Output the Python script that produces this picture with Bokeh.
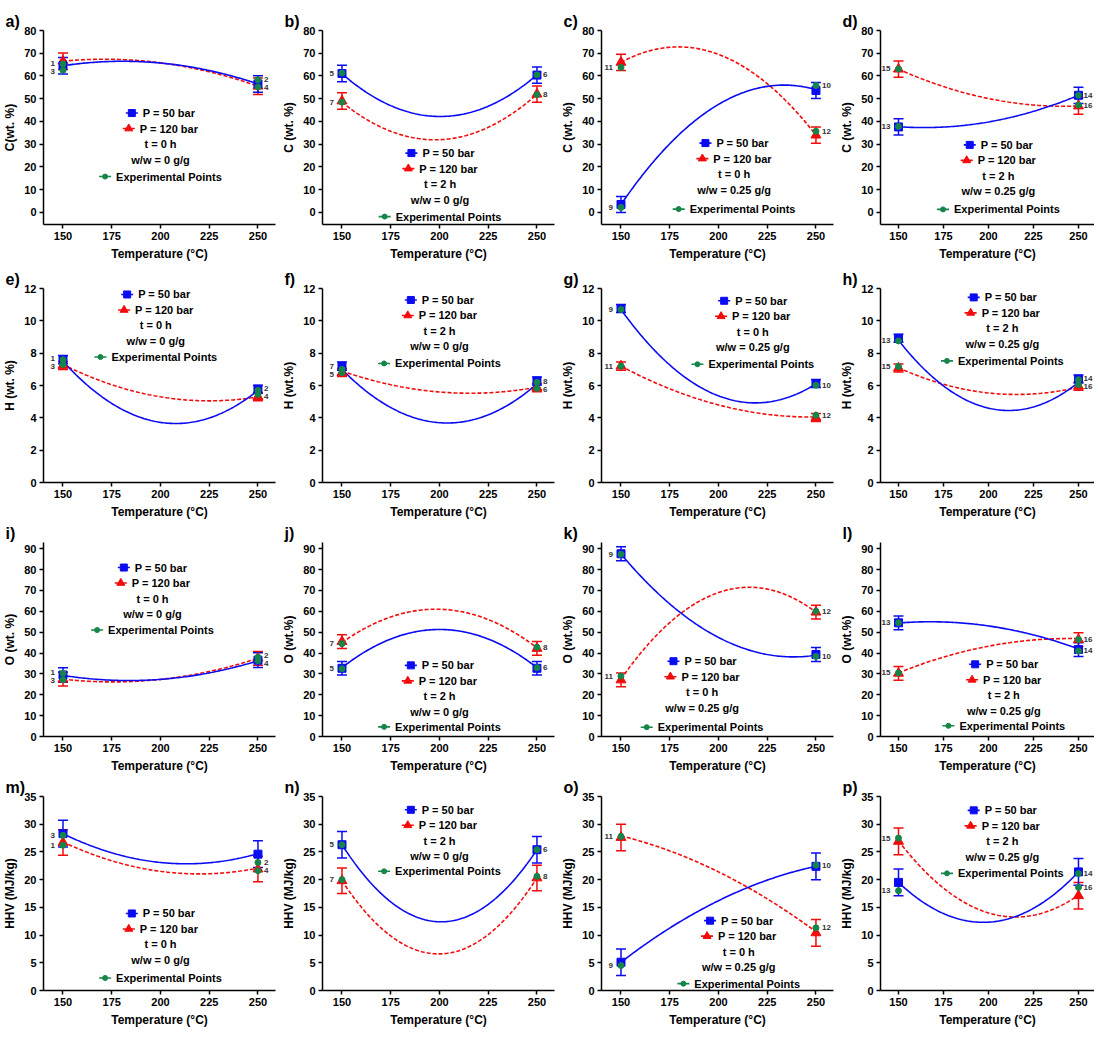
import numpy as np
from bokeh.plotting import figure
from bokeh.layouts import gridplot
from bokeh.models import Range1d, FixedTicker, Whisker, ColumnDataSource, TeeHead
from bokeh.embed import file_html
from bokeh.resources import INLINE
from bokeh.core.properties import value

# ---------------- data ----------------
panel_letters = ["a)", "b)", "c)", "d)", "e)", "f)", "g)", "h)",
                 "i)", "j)", "k)", "l)", "m)", "n)", "o)", "p)"]
y_labels = ["C(wt. %)", "C (wt. %)", "C (wt. %)", "C (wt. %)",
            "H (wt. %)", "H (wt.%)", "H (wt.%)", "H (wt.%)",
            "O (wt. %)", "O (wt.%)", "O (wt.%)", "O (wt.%)",
            "HHV (MJ/kg)", "HHV (MJ/kg)", "HHV (MJ/kg)", "HHV (MJ/kg)"]
x_label = "Temperature (\u00b0C)"
x_ticks = [150, 175, 200, 225, 250]
temps = [150, 250]
curve_temps = [150, 200, 250]
t_text = ["t = 0 h", "t = 2 h", "t = 0 h", "t = 2 h"]
ww_text = ["w/w = 0 g/g", "w/w = 0 g/g", "w/w = 0.25 g/g", "w/w = 0.25 g/g"]
row_ylim = [(-5.3, 80), (0, 12), (0, 93), (0, 35)]
row_yticks = [list(range(0, 81, 10)), list(range(0, 13, 2)),
              list(range(0, 91, 10)), list(range(0, 36, 5))]

# model means at 150 / 250 degC
p50_mean = [[64.5, 56.5], [61.1, 60.4], [3.5, 53.6], [37.6, 51.5],
            [7.6, 5.77], [7.2, 6.28], [10.76, 6.12], [8.92, 6.4],
            [29.5, 36.6], [32.7, 32.7], [87.6, 39.3], [54.5, 41.7],
            [28.3, 24.6], [26.3, 25.4], [5.1, 22.4], [19.5, 21.4]]
p50_err = [3.6, 3.6, 3.5, 3.6, 0.25, 0.25, 0.25, 0.25,
           3.5, 3.2, 3.4, 3.3, 2.4, 2.4, 2.4, 2.4]
p120_mean = [[66.5, 55.5], [49.0, 52.0], [66.0, 34.0], [63.0, 46.8],
             [7.24, 5.31], [6.8, 5.87], [7.2, 4.02], [7.08, 5.95],
             [27.5, 37.5], [45.5, 42.2], [27.1, 59.6], [30.3, 46.4],
             [26.7, 21.9], [19.8, 20.3], [27.6, 10.4], [26.9, 17.1]]
p120_err = [3.6, 3.6, 3.6, 3.6, 0.25, 0.25, 0.25, 0.25,
            3.3, 3.3, 3.3, 3.3, 2.3, 2.3, 2.4, 2.4]

# fitted-curve values read at 150 / 200 / 250 degC
p50_curve = [[64.5, 65.7, 56.5], [61.0, 42.2, 60.5], [3.5, 47.5, 54.0], [37.7, 39.8, 51.5],
             [7.5, 3.72, 5.7], [7.0, 3.7, 6.1], [10.7, 5.36, 6.1], [8.8, 4.6, 6.2],
             [29.3, 27.4, 36.3], [33.0, 51.3, 33.0], [87.5, 47.5, 39.0], [54.4, 53.0, 42.0],
             [28.3, 23.1, 24.7], [26.3, 12.4, 25.4], [5.1, 16.2, 22.4], [19.5, 12.33, 21.4]]
p120_curve = [[66.5, 65.8, 55.5], [48.5, 32.0, 52.0], [66.0, 69.5, 34.0], [63.0, 50.1, 46.8],
              [7.3, 5.3, 5.3], [6.9, 5.6, 5.9], [7.2, 4.8, 4.05], [7.1, 5.54, 5.9],
              [27.5, 27.4, 37.5], [45.0, 61.0, 42.5], [27.5, 69.0, 59.6], [30.5, 43.3, 46.9],
              [26.8, 21.5, 22.1], [19.8, 6.6, 20.3], [27.9, 21.4, 10.6], [27.0, 14.0, 17.2]]

# experimental points: ids per column, values per panel
exp_ids_150 = [[1, 3], [5, 7], [9, 11], [13, 15]]
exp_ids_250 = [[2, 4], [6, 8], [10, 12], [14, 16]]
exp_150 = [[65.3, 62.5], [61.3, 48.5], [2.2, 63.8], [37.8, 63.1],
           [7.6, 7.3], [6.8, 7.0], [10.7, 7.2], [8.76, 7.18],
           [30.3, 27.2], [32.5, 44.5], [87.4, 29.0], [54.5, 30.5],
           [26.2, 28.0], [26.3, 20.0], [4.5, 27.8], [18.0, 27.5]]
exp_250 = [[58.4, 55.2], [60.5, 51.8], [55.8, 35.7], [51.5, 47.2],
           [5.7, 5.45], [5.82, 6.2], [6.02, 4.16], [6.36, 6.05],
           [38.0, 36.3], [33.0, 42.8], [38.4, 60.0], [41.0, 46.5],
           [23.1, 21.6], [25.4, 20.6], [22.6, 11.3], [21.1, 18.6]]

# ---------------- styles / layout ----------------
legend_anchor = [(200, 43.7), (200.3, 26.1), (208, 30.5), (205.5, 29.7),
                 (197.6, 11.63), (200, 11.29), (217.6, 11.24), (207.7, 11.45),
                 (195.9, 81), (200, 34.1), (191.6, 36.1), (208.5, 34.6),
                 (200, 13.9), (200, 32.6), (210.4, 12.6), (207.7, 32.5)]
legend_last_gap = [17, 17, 19.5, 18, 16, 17, 17, 17, 16, 15, 19.5, 15, 18, 15, 16.5, 16.5]
ROW_SP = 15.5
FONT = "Liberation Sans"
BLUE = "#0b0bf2"
RED = "#f20b0b"
GREEN = "#15854a"
FRAME_H = 194
row_top = [30, 24, 21, 21]
row_bottom = [40, 38, 38, 40]
col_frame_w = [232, 232, 232, 214]
col_xmax = [259.0, 259.0, 259.0, 258.9]
col_right = [4, 4, 4, 0]
XMIN = 140

ARIAL_B = {' ': 278, 'P': 667, '=': 584, 'b': 611, 'a': 556, 'r': 389, 'E': 667,
           'x': 556, 'p': 611, 'e': 556, 'i': 278, 'm': 889, 'n': 611, 't': 333,
           'l': 278, 'o': 611, 's': 556}


def text_w(s, size):
    return sum(ARIAL_B.get(c, 556) for c in s) * size / 1000.0


figs = []
for k in range(16):
    r, c = divmod(k, 4)
    fw = col_frame_w[c]
    xmax = col_xmax[c]
    y0, y1 = row_ylim[r]
    p = figure(frame_width=fw, frame_height=FRAME_H,
               x_range=Range1d(XMIN, xmax), y_range=Range1d(y0, y1),
               output_backend="svg", toolbar_location=None,
               min_border_left=40, min_border_right=col_right[c],
               min_border_top=row_top[r], min_border_bottom=row_bottom[r],
               title=panel_letters[k])
    p.title.align = "left"
    p.title.offset = -38
    p.title.standoff = 2
    p.title.text_font = FONT
    p.title.text_font_size = "16px"
    p.title.text_font_style = "bold"
    p.title.text_color = "black"
    p.outline_line_color = None
    p.grid.visible = False
    p.background_fill_color = "white"
    p.border_fill_color = "white"

    p.xaxis.ticker = FixedTicker(ticks=x_ticks)
    p.yaxis.ticker = FixedTicker(ticks=row_yticks[r])
    p.xaxis.axis_label = x_label
    p.yaxis.axis_label = y_labels[k]
    for ax in (p.xaxis[0], p.yaxis[0]):
        ax.axis_line_width = 1.5
        ax.major_tick_line_width = 1.5
        ax.major_tick_out = 4
        ax.major_tick_in = 0
        ax.minor_tick_line_color = None
        ax.major_label_text_font = FONT
        ax.major_label_text_font_style = "bold"
        ax.major_label_text_font_size = "11px"
        ax.major_label_text_color = "black"
        ax.axis_label_text_font = FONT
        ax.axis_label_text_font_style = "bold"
        ax.axis_label_text_font_size = "12px"
        ax.axis_label_text_color = "black"
        ax.major_label_standoff = 3
        ax.axis_label_standoff = 4

    dxpp = (xmax - XMIN) / fw
    dypp = (y1 - y0) / FRAME_H

    # fitted curves
    xs = np.linspace(150, 250, 121)
    ys50 = np.polyval(np.polyfit(curve_temps, p50_curve[k], 2), xs)
    ys120 = np.polyval(np.polyfit(curve_temps, p120_curve[k], 2), xs)
    p.line(xs, ys120, line_color=RED, line_width=1.6, line_dash="4 2")
    p.line(xs, ys50, line_color=BLUE, line_width=1.6)

    # error bars + markers
    for mean, err, col, mk, sz in ((p120_mean[k], p120_err[k], RED, "triangle", 10),
                                   (p50_mean[k], p50_err[k], BLUE, "square", 8)):
        src = ColumnDataSource(dict(x=temps, y=mean,
                                    upper=[m + err for m in mean],
                                    lower=[m - err for m in mean]))
        p.add_layout(Whisker(source=src, base="x", upper="upper", lower="lower",
                             line_color=col, line_width=1.5,
                             upper_head=TeeHead(size=10, line_color=col, line_width=1.5),
                             lower_head=TeeHead(size=10, line_color=col, line_width=1.5)))
        p.scatter("x", "y", source=src, marker=mk, size=sz, color=col)

    # experimental points
    ex = [150, 150, 250, 250]
    ey = exp_150[k] + exp_250[k]
    p.scatter(ex, ey, marker="circle", size=6, color=GREEN)

    # point labels (spread apart if overlapping)
    off_r = 6 if c < 3 else 5
    for tv, ids, vals, align, off in ((150, exp_ids_150[c], exp_150[k], "right", -8),
                                      (250, exp_ids_250[c], exp_250[k], "left", off_r)):
        ly = list(vals)
        gap_px = abs(ly[0] - ly[1]) / dypp
        if gap_px < 8:
            mid = (ly[0] + ly[1]) / 2
            hi = 0 if ly[0] >= ly[1] else 1
            ly[hi] = mid + 4 * dypp
            ly[1 - hi] = mid - 4 * dypp
        p.text(x=[tv, tv], y=ly, text=[str(i) for i in ids],
               text_align=align, text_baseline="middle", x_offset=off,
               text_font=value(FONT), text_font_style="bold",
               text_font_size="8px", text_color="#333333")

    # legend block
    cx, cy = legend_anchor[k]
    rows_y = [cy - i * ROW_SP * dypp for i in range(4)]
    rows_y.append(rows_y[3] - legend_last_gap[k] * dypp)
    entries = [("P = 50 bar", BLUE, "square", 7),
               ("P = 120 bar", RED, "triangle", 8),
               (t_text[c], None, None, 0),
               (ww_text[c], None, None, 0),
               ("Experimental Points", GREEN, "circle", 5)]
    for (txt, col, mk, sz), yy in zip(entries, rows_y):
        if col is None:
            p.text(x=[cx], y=[yy], text=[txt], text_align="center",
                   text_baseline="middle", text_font=value(FONT),
                   text_font_style="bold", text_font_size="11px", text_color="black")
        else:
            W = 12 + 5 + text_w(txt, 11)
            left = -W / 2
            p.segment(x0=[cx + left * dxpp], y0=[yy], x1=[cx + (left + 12) * dxpp], y1=[yy],
                      line_color=col, line_width=1.6)
            p.scatter([cx + (left + 6) * dxpp], [yy], marker=mk, size=sz, color=col)
            p.text(x=[cx + (left + 17) * dxpp], y=[yy], text=[txt], text_align="left",
                   text_baseline="middle", text_font=value(FONT),
                   text_font_style="bold", text_font_size="11px", text_color="black")
    figs.append(p)

grid = gridplot([figs[0:4], figs[4:8], figs[8:12], figs[12:16]], toolbar_location=None)
open("out.html", "w").write(file_html(grid, INLINE))
